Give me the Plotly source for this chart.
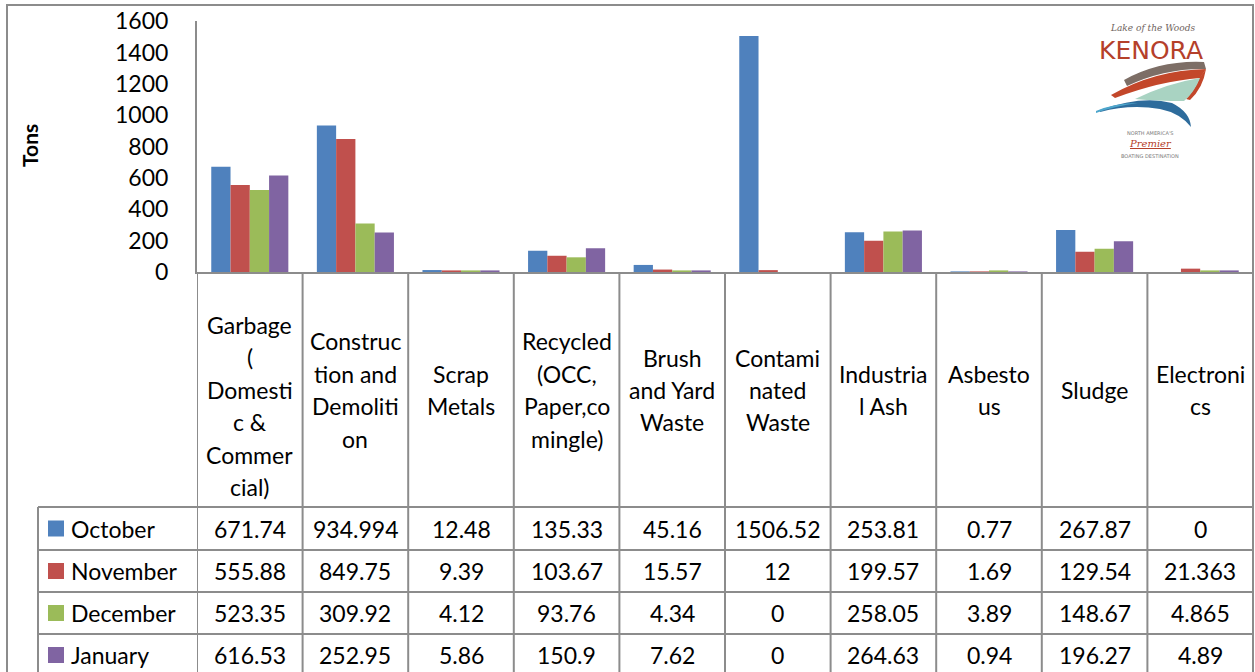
import plotly.graph_objects as go

# ---------------- data ----------------
categories = [
    "Garbage (Domestic & Commercial)", "Construction and Demolition", "Scrap Metals",
    "Recycled (OCC, Paper,comingle)", "Brush and Yard Waste", "Contaminated Waste",
    "Industrial Ash", "Asbestous", "Sludge", "Electronics",
]
category_lines = [
    ["Garbage", "(", "Domesti", "c &", "Commer", "cial)"],
    ["Construc", "tion and", "Demoliti", "on"],
    ["Scrap", "Metals"],
    ["Recycled", "(OCC,", "Paper,co", "mingle)"],
    ["Brush", "and Yard", "Waste"],
    ["Contami", "nated", "Waste"],
    ["Industria", "l Ash"],
    ["Asbesto", "us"],
    ["Sludge"],
    ["Electroni", "cs"],
]
months = ["October", "November", "December", "January"]
october = [671.74, 934.994, 12.48, 135.33, 45.16, 1506.52, 253.81, 0.77, 267.87, 0]
november = [555.88, 849.75, 9.39, 103.67, 15.57, 12, 199.57, 1.69, 129.54, 21.363]
december = [523.35, 309.92, 4.12, 93.76, 4.34, 0, 258.05, 3.89, 148.67, 4.865]
january = [616.53, 252.95, 5.86, 150.9, 7.62, 0, 264.63, 0.94, 196.27, 4.89]
series = [october, november, december, january]
y_ticks = [0, 200, 400, 600, 800, 1000, 1200, 1400, 1600]
y_title = "Tons"

# ---------------- style ----------------
W, H = 1255, 672
colors = ["#4F81BD", "#C0504D", "#9BBB59", "#8064A2"]
FONT = "Lato, Calibri, sans-serif"
GRID = "#8C8C8C"


def px(x):
    return x / W


def py(y):
    return 1 - y / H


fig = go.Figure()
for name, vals, col in zip(months, series, colors):
    fig.add_trace(go.Bar(x=categories, y=vals, name=name, marker_color=col,
                         marker_line_width=0, showlegend=False))

shapes = []
ann = []

# outer chart border
shapes.append(dict(type="rect", xref="paper", yref="paper", x0=px(7), x1=px(1253),
                   y0=py(690), y1=py(5), line=dict(color=GRID, width=2)))

# table vertical lines (column boundaries on category axis)
for i in range(len(categories) + 1):
    shapes.append(dict(type="line", xref="x", yref="paper", x0=i - 0.5, x1=i - 0.5,
                       y0=py(272), y1=py(690), line=dict(color=GRID, width=2)))
# legend column left line
shapes.append(dict(type="line", xref="paper", yref="paper", x0=px(38), x1=px(38),
                   y0=py(507), y1=py(690), line=dict(color=GRID, width=2)))
row_lines = [507, 550, 592, 634]
for yl in row_lines:
    shapes.append(dict(type="line", xref="paper", yref="paper", x0=px(38), x1=px(1253),
                       y0=py(yl), y1=py(yl), line=dict(color=GRID, width=2)))

row_centers = [528.5, 571, 613, 655]

# category labels
LINE_H = 32.4
for ci, lines in enumerate(category_lines):
    n = len(lines)
    center = 390 if n < 6 else 406
    top = center - (n - 1) * LINE_H / 2
    for li, t in enumerate(lines):
        ann.append(dict(x=categories[ci], xref="x", y=py(top + li * LINE_H), yref="paper",
                        text=t, showarrow=False, xanchor="center", yanchor="middle",
                        font=dict(family=FONT, size=23, color="#000000")))

# table values and legend keys
for ri, (name, vals, col) in enumerate(zip(months, series, colors)):
    yc = row_centers[ri]
    shapes.append(dict(type="rect", xref="paper", yref="paper", x0=px(48), x1=px(64),
                       y0=py(yc + 8), y1=py(yc - 8), fillcolor=col, line=dict(width=0)))
    ann.append(dict(x=px(69), xref="paper", y=py(yc), yref="paper", text=name,
                    showarrow=False, xanchor="left", yanchor="middle",
                    font=dict(family=FONT, size=23, color="#000000")))
    for ci, v in enumerate(vals):
        ann.append(dict(x=categories[ci], xref="x", y=py(yc), yref="paper", text=f"{v:g}",
                        showarrow=False, xanchor="center", yanchor="middle",
                        font=dict(family=FONT, size=23, color="#000000")))

# y title
ann.append(dict(x=px(29), xref="paper", y=py(146), yref="paper", text=f"<b>{y_title}</b>",
                textangle=-90, showarrow=False, xanchor="center", yanchor="middle",
                font=dict(family=FONT, size=21, color="#000000")))

# ---------------- logo (approximation) ----------------
def P(x, y):
    return f"{px(x):.5f},{py(y):.5f}"


logo_paths = [
    (f"M {P(1124,80)} Q {P(1160,60)} {P(1204,62)} L {P(1206,69)} Q {P(1165,68)} {P(1127,86)} Z", "#7D6E66"),
    (f"M {P(1111,95)} Q {P(1155,70)} {P(1206,69)} L {P(1200,78)} Q {P(1160,81)} {P(1115,98)} Z", "#C3472A"),
    (f"M {P(1206,69)} Q {P(1203,88)} {P(1190,100)} L {P(1186,99)} Q {P(1196,88)} {P(1200,77)} Z", "#C3472A"),
    (f"M {P(1135,99)} Q {P(1168,83)} {P(1200,78)} Q {P(1194,93)} {P(1184,101)} Q {P(1158,101)} {P(1135,99)} Z", "#A9D3C2"),
    (f"M {P(1100,110)} Q {P(1142,95)} {P(1172,103)} Q {P(1190,112)} {P(1191,127)} Q {P(1180,113)} {P(1160,109)} Q {P(1130,104)} {P(1100,112)} Z", "#2E6C9C"),
    (f"M {P(1096,111)} Q {P(1115,103)} {P(1138,103)} Q {P(1115,106)} {P(1096,113)} Z", "#4DA6CC"),
]
for d, c in logo_paths:
    shapes.append(dict(type="path", xref="paper", yref="paper", path=d, fillcolor=c,
                       line=dict(width=0)))

logo_texts = [
    dict(x=px(1152), y=py(28), text="<i>Lake of the Woods</i>", font=dict(family="DejaVu Serif", size=9, color="#6E625C")),
    dict(x=px(1151), y=py(51), text="KENORA", font=dict(family="DejaVu Sans", size=25, color="#B5402A")),
    dict(x=px(1150), y=py(133), text="NORTH AMERICA'S", font=dict(family="DejaVu Sans", size=5, color="#7A7A7A")),
    dict(x=px(1150), y=py(143), text="<i><u>Premier</u></i>", font=dict(family="DejaVu Serif", size=10, color="#B5402A")),
    dict(x=px(1150), y=py(156), text="BOATING DESTINATION", font=dict(family="DejaVu Sans", size=5, color="#7A7A7A")),
]
for a in logo_texts:
    a.update(xref="paper", yref="paper", showarrow=False, xanchor="center", yanchor="middle")
ann += logo_texts

fig.update_layout(
    width=W, height=H, margin=dict(l=0, r=0, t=0, b=0, autoexpand=False),
    paper_bgcolor="white", plot_bgcolor="white",
    barmode="group", bargap=0.27, bargroupgap=0,
    shapes=shapes, annotations=ann,
    xaxis=dict(domain=[px(197), px(1253)], type="category", range=[-0.5, len(categories) - 0.5],
               showticklabels=False, showgrid=False, zeroline=False, showline=True,
               linecolor=GRID, linewidth=2, ticks="", automargin=False),
    yaxis=dict(domain=[py(272), py(21.4)], range=[0, 1600], tickvals=y_ticks,
               showgrid=False, zeroline=False, showline=True, linecolor=GRID, linewidth=2,
               ticks="", ticklabelstandoff=22, automargin=False,
               tickfont=dict(family=FONT, size=23, color="#000000")),
)

fig.write_html("out.html")
